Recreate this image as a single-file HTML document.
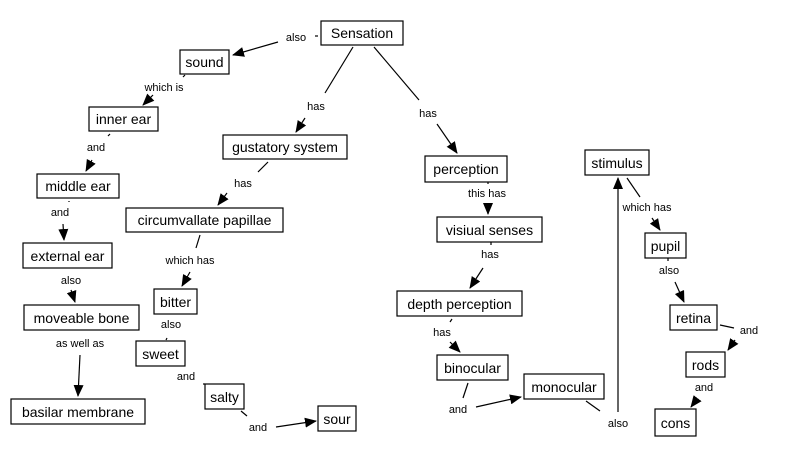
<!DOCTYPE html>
<html><head><style>
body{margin:0;background:#fff;}
svg{display:block;}
.b{fill:#fff;stroke:#000;stroke-width:1.2;}
.n{font-family:"Liberation Sans",sans-serif;font-size:14px;fill:#000;}
.l{font-family:"Liberation Sans",sans-serif;font-size:11px;fill:#000;}
line{stroke:#000;stroke-width:1.2;}
</style></head><body>
<svg width="785" height="458" viewBox="0 0 785 458" xmlns="http://www.w3.org/2000/svg">
<defs><marker id="a" markerWidth="12" markerHeight="10" refX="11" refY="5" orient="auto" markerUnits="userSpaceOnUse"><path d="M0,0 L12,5 L0,10 z" fill="#000"/></marker></defs>
<g>
<!-- connectors -->
<line x1="318" y1="36" x2="315" y2="36"/>
<line x1="278" y1="42" x2="233" y2="55" marker-end="url(#a)"/>
<line x1="185" y1="75" x2="183" y2="77"/>
<line x1="153" y1="95" x2="143" y2="105" marker-end="url(#a)"/>
<line x1="110" y1="134" x2="108" y2="136"/>
<line x1="92" y1="160" x2="86" y2="171" marker-end="url(#a)"/>
<line x1="69" y1="201" x2="69" y2="202"/>
<line x1="63" y1="224" x2="64" y2="240" marker-end="url(#a)"/>
<line x1="71" y1="290" x2="75" y2="302" marker-end="url(#a)"/>
<line x1="80" y1="355" x2="78" y2="396" marker-end="url(#a)"/>
<line x1="353" y1="47" x2="325" y2="93"/>
<line x1="305" y1="118" x2="296" y2="132" marker-end="url(#a)"/>
<line x1="268" y1="162" x2="258" y2="172"/>
<line x1="227" y1="193" x2="218" y2="205" marker-end="url(#a)"/>
<line x1="200" y1="235" x2="196" y2="248"/>
<line x1="190" y1="272" x2="182" y2="286" marker-end="url(#a)"/>
<line x1="167" y1="338" x2="166" y2="340"/>
<line x1="203" y1="384" x2="205" y2="384"/>
<line x1="241" y1="411" x2="247" y2="416"/>
<line x1="276" y1="427" x2="316" y2="421" marker-end="url(#a)"/>
<line x1="374" y1="47" x2="419" y2="100"/>
<line x1="437" y1="124" x2="457" y2="153" marker-end="url(#a)"/>
<line x1="488" y1="182" x2="488" y2="184"/>
<line x1="488" y1="205" x2="488" y2="214" marker-end="url(#a)"/>
<line x1="491" y1="242" x2="491" y2="245"/>
<line x1="483" y1="268" x2="470" y2="288" marker-end="url(#a)"/>
<line x1="452" y1="319" x2="450" y2="322"/>
<line x1="450" y1="342" x2="460" y2="352" marker-end="url(#a)"/>
<line x1="468" y1="383" x2="463" y2="398"/>
<line x1="476" y1="407" x2="521" y2="397" marker-end="url(#a)"/>
<line x1="586" y1="401" x2="600" y2="411"/>
<line x1="618" y1="412" x2="618" y2="178" marker-end="url(#a)"/>
<line x1="627" y1="178" x2="640" y2="197"/>
<line x1="652" y1="218" x2="660" y2="230" marker-end="url(#a)"/>
<line x1="668" y1="258" x2="668" y2="261"/>
<line x1="675" y1="282" x2="684" y2="302" marker-end="url(#a)"/>
<line x1="720" y1="325" x2="734" y2="328"/>
<line x1="735" y1="340" x2="728" y2="350" marker-end="url(#a)"/>
<line x1="697" y1="399" x2="691" y2="407" marker-end="url(#a)"/>
</g>
<!-- nodes -->
<rect class="b" x="321" y="21" width="82" height="24"/><text class="n" x="362" y="38" text-anchor="middle">Sensation</text>
<rect class="b" x="180" y="50" width="49" height="24"/><text class="n" x="204.5" y="67" text-anchor="middle">sound</text>
<rect class="b" x="89" y="107" width="69" height="24"/><text class="n" x="123.5" y="124" text-anchor="middle">inner ear</text>
<rect class="b" x="37" y="174" width="82" height="24"/><text class="n" x="78" y="191" text-anchor="middle">middle ear</text>
<rect class="b" x="223" y="135" width="124" height="24"/><text class="n" x="285" y="152" text-anchor="middle">gustatory system</text>
<rect class="b" x="126" y="208" width="157" height="24"/><text class="n" x="204.5" y="225" text-anchor="middle">circumvallate papillae</text>
<rect class="b" x="23" y="243" width="89" height="25"/><text class="n" x="67.5" y="261" text-anchor="middle">external ear</text>
<rect class="b" x="24" y="305" width="115" height="25"/><text class="n" x="81.5" y="323" text-anchor="middle">moveable bone</text>
<rect class="b" x="11" y="399" width="134" height="25"/><text class="n" x="78" y="417" text-anchor="middle">basilar membrane</text>
<rect class="b" x="154" y="289" width="43" height="25"/><text class="n" x="175.5" y="307" text-anchor="middle">bitter</text>
<rect class="b" x="136" y="341" width="49" height="25"/><text class="n" x="160.5" y="359" text-anchor="middle">sweet</text>
<rect class="b" x="205" y="384" width="39" height="25"/><text class="n" x="224.5" y="402" text-anchor="middle">salty</text>
<rect class="b" x="318" y="406" width="38" height="25"/><text class="n" x="337" y="424" text-anchor="middle">sour</text>
<rect class="b" x="425" y="156" width="82" height="26"/><text class="n" x="466" y="174" text-anchor="middle">perception</text>
<rect class="b" x="437" y="217" width="105" height="25"/><text class="n" x="489.5" y="235" text-anchor="middle">visiual senses</text>
<rect class="b" x="397" y="291" width="125" height="25"/><text class="n" x="459.5" y="309" text-anchor="middle">depth perception</text>
<rect class="b" x="437" y="355" width="71" height="25"/><text class="n" x="472.5" y="373" text-anchor="middle">binocular</text>
<rect class="b" x="524" y="374" width="80" height="25"/><text class="n" x="564" y="392" text-anchor="middle">monocular</text>
<rect class="b" x="585" y="150" width="64" height="25"/><text class="n" x="617" y="168" text-anchor="middle">stimulus</text>
<rect class="b" x="645" y="233" width="41" height="25"/><text class="n" x="665.5" y="251" text-anchor="middle">pupil</text>
<rect class="b" x="670" y="305" width="47" height="25"/><text class="n" x="693.5" y="323" text-anchor="middle">retina</text>
<rect class="b" x="686" y="352" width="39" height="25"/><text class="n" x="705.5" y="370" text-anchor="middle">rods</text>
<rect class="b" x="655" y="409" width="41" height="27"/><text class="n" x="675.5" y="428" text-anchor="middle">cons</text>
<!-- labels -->
<text class="l" x="296" y="41" text-anchor="middle">also</text>
<text class="l" x="164" y="91" text-anchor="middle">which is</text>
<text class="l" x="316" y="110" text-anchor="middle">has</text>
<text class="l" x="428" y="117" text-anchor="middle">has</text>
<text class="l" x="96" y="151" text-anchor="middle">and</text>
<text class="l" x="243" y="187" text-anchor="middle">has</text>
<text class="l" x="60" y="216" text-anchor="middle">and</text>
<text class="l" x="190" y="264" text-anchor="middle">which has</text>
<text class="l" x="71" y="284" text-anchor="middle">also</text>
<text class="l" x="171" y="328" text-anchor="middle">also</text>
<text class="l" x="80" y="347" text-anchor="middle">as well as</text>
<text class="l" x="186" y="380" text-anchor="middle">and</text>
<text class="l" x="258" y="431" text-anchor="middle">and</text>
<text class="l" x="487" y="197" text-anchor="middle">this has</text>
<text class="l" x="490" y="258" text-anchor="middle">has</text>
<text class="l" x="442" y="336" text-anchor="middle">has</text>
<text class="l" x="458" y="413" text-anchor="middle">and</text>
<text class="l" x="618" y="427" text-anchor="middle">also</text>
<text class="l" x="647" y="211" text-anchor="middle">which has</text>
<text class="l" x="669" y="274" text-anchor="middle">also</text>
<text class="l" x="749" y="334" text-anchor="middle">and</text>
<text class="l" x="704" y="391" text-anchor="middle">and</text>
</svg>
</body></html>
